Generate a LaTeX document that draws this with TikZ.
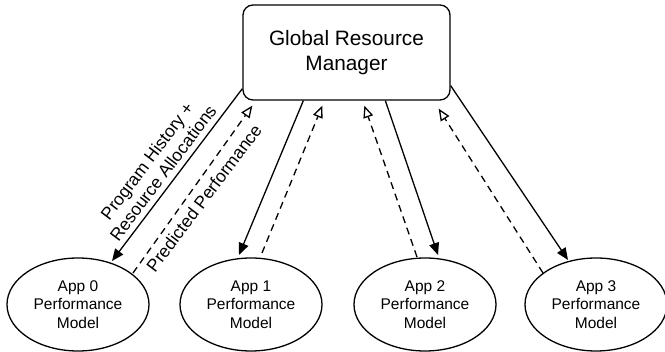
\documentclass[tikz,border=0pt]{standalone}
\usepackage{fontspec}
\setmainfont{Liberation Sans}
\usetikzlibrary{arrows.meta,shapes.geometric,calc}
\begin{document}
\begin{tikzpicture}[x=1pt,y=-1pt,
  mgr/.style={draw,line width=1.3pt,rounded corners=10pt,minimum width=207pt,minimum height=95pt,inner sep=0pt,align=center,font=\fontsize{20.8}{25}\selectfont},
  app/.style={draw,ellipse,line width=1.3pt,minimum width=142pt,minimum height=93pt,inner sep=0pt,align=center,font=\fontsize{15.5}{18.5}\selectfont},
  req/.style={line width=1.3pt,-{Triangle[length=12pt,width=10pt]}},
  resp/.style={line width=1.3pt,dash pattern=on 7pt off 5pt,-{Triangle[open,length=12pt,width=10pt,fill=white]}},
  lbl/.style={font=\fontsize{17.5}{20}\selectfont,align=center,rotate=53,inner sep=0pt}]
\useasboundingbox (0,0) rectangle (665,352);
\node[mgr] (gm) at (346.5,52.5) {Global Resource\\Manager};
\node[app] (a0) at (78,304.5) {App 0\\Performance\\Model};
\node[app] (a1) at (251,304.5) {App 1\\Performance\\Model};
\node[app] (a2) at (425,304.5) {App 2\\Performance\\Model};
\node[app] (a3) at (596,304.5) {App 3\\Performance\\Model};
% App 0
\draw[req] ($(gm.south west)+(0,-12)$) -- ($(a0.center)+(34,-43.5)$);
\draw[resp] ($(a0.center)+(55,-31.5)$) -- ($(gm.south west)+(10,5)$);
% App 1
\draw[req] ($(gm.south west)+(61,0)$) -- ($(a1.center)+(-12,-49.5)$);
\draw[resp] ($(a1.center)+(11,-51.5)$) -- ($(gm.south west)+(80,5)$);
% App 2
\draw[resp] ($(a2.center)+(-8,-47.5)$) -- ($(gm.south west)+(122,5)$);
\draw[req] ($(gm.south west)+(143,0)$) -- ($(a2.center)+(13,-49.5)$);
% App 3
\draw[resp] ($(a3.center)+(-53,-31.5)$) -- ($(gm.south east)+(-12,8)$);
\draw[req] ($(gm.south east)+(0,-15)$) -- ($(a3.center)+(-28,-44.5)$);
% labels
\node[lbl] (l1) at (155,167) {Program History +\\Resource Allocations};
\node[lbl] (l2) at (204,198) {Predicted Performance};
\end{tikzpicture}
\end{document}
